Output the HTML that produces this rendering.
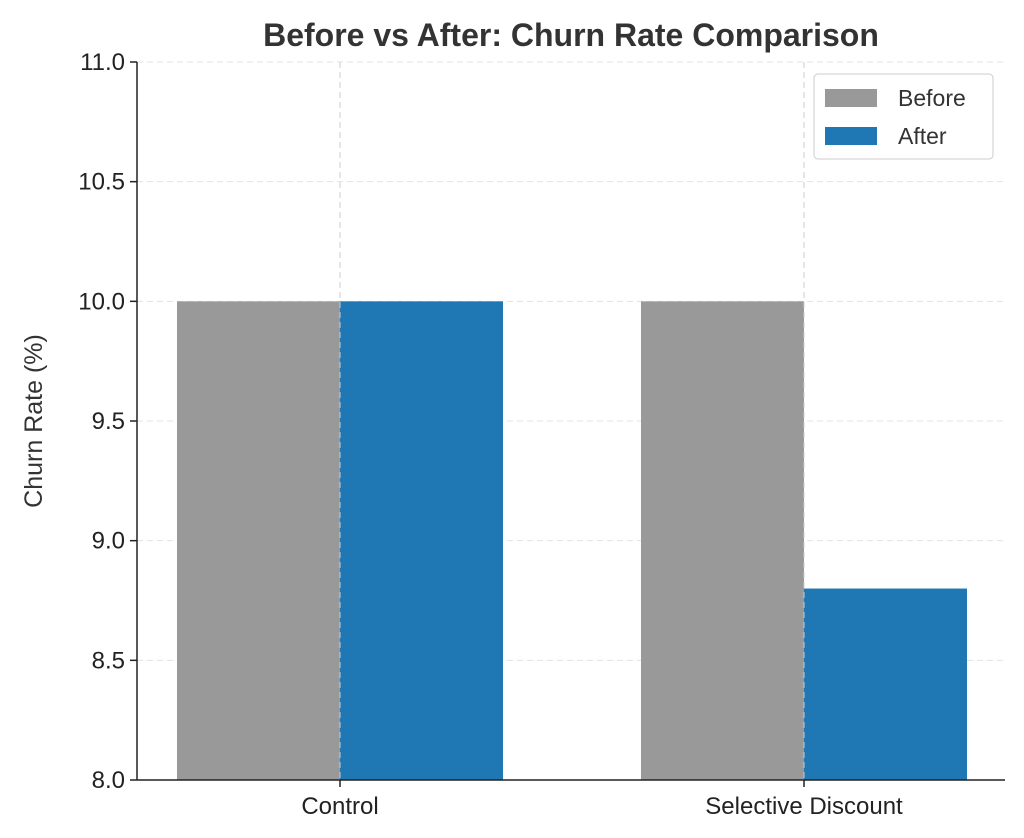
<!DOCTYPE html>
<html><head><meta charset="utf-8"><style>
html,body{margin:0;padding:0;background:#fff;}
svg{display:block;font-family:"Liberation Sans","DejaVu Sans",sans-serif;}
</style></head><body>
<svg id="chart" width="1024" height="838" viewBox="0 0 1024 838">
<text x="571" y="46" text-anchor="middle" font-size="32" font-weight="bold" fill="#333">Before vs After: Churn Rate Comparison</text>
<text transform="translate(42,421) rotate(-90)" text-anchor="middle" font-size="25" fill="#333">Churn Rate (%)</text>
<g id="grid"></g><g id="bars"></g><g id="axes"></g>
<g>
<rect x="814" y="74" width="179" height="85" rx="4" fill="#fff" stroke="#ccc"/>
<rect x="825" y="89" width="52" height="18" fill="#999999"/>
<text x="898" y="106" font-size="23" fill="#333">Before</text>
<rect x="825" y="127" width="52" height="18" fill="#1f77b4"/>
<text x="898" y="144" font-size="23" fill="#333">After</text>
</g>
</svg>
<script>
const categories = ["Control", "Selective Discount"];
const beforeValues = [10.0, 10.0];
const afterValues = [10.0, 8.8];
const yTicks = [8.0, 8.5, 9.0, 9.5, 10.0, 10.5, 11.0];
const yTickLabels = ["8.0", "8.5", "9.0", "9.5", "10.0", "10.5", "11.0"];

const NS = "http://www.w3.org/2000/svg";
const L = 137, R = 1005, T = 62, B = 780, yMin = 8, yMax = 11;
const y = v => B - (v - yMin) / (yMax - yMin) * (B - T);
const x = i => 340 + i * 464;
const bw = 163;
function mk(tag, attrs, parent, text) {
  const e = document.createElementNS(NS, tag);
  for (const k in attrs) e.setAttribute(k, attrs[k]);
  if (text !== undefined) e.textContent = text;
  parent.appendChild(e);
  return e;
}
const grid = document.getElementById("grid"), bars = document.getElementById("bars"), axes = document.getElementById("axes");
yTicks.forEach((t, i) => {
  const g = mk("line", {x1: L, x2: R, y1: y(t), y2: y(t), stroke: "#e3e3e3", "stroke-dasharray": "6,4", "stroke-width": 1}, grid);
  
  
  const tk = mk("line", {x1: L - 7, x2: L, y1: y(t), y2: y(t), stroke: "#222", "stroke-width": 1.5}, axes);
  
  
  const lb = mk("text", {x: L - 12, y: y(t) + 8, "text-anchor": "end", "font-size": 24, fill: "#222"}, axes, yTickLabels[i]);
  
  
});
categories.forEach((c, i) => {
  const bb = mk("rect", {x: x(i) - bw, y: y(beforeValues[i]), width: bw, height: B - y(beforeValues[i]), fill: "#999999"}, bars);
  
  
  const ab = mk("rect", {x: x(i), y: y(afterValues[i]), width: bw, height: B - y(afterValues[i]), fill: "#1f77b4"}, bars);
  
  
  const g = mk("line", {x1: x(i), x2: x(i), y1: T, y2: B, stroke: "#cccccc", "stroke-dasharray": "6,4", "stroke-width": 1}, bars);
  
  
  const tk = mk("line", {x1: x(i), x2: x(i), y1: B, y2: B + 7, stroke: "#222", "stroke-width": 1.5}, axes);
  
  
  const lb = mk("text", {x: x(i), y: B + 34, "text-anchor": "middle", "font-size": 24, fill: "#222"}, axes, c);
  
  
});
const ya = mk("line", {x1: L, x2: L, y1: T, y2: B, stroke: "#222", "stroke-width": 1.5}, axes);


const xa = mk("line", {x1: L, x2: R, y1: B, y2: B, stroke: "#222", "stroke-width": 1.5}, axes);


</script>
</body></html>
